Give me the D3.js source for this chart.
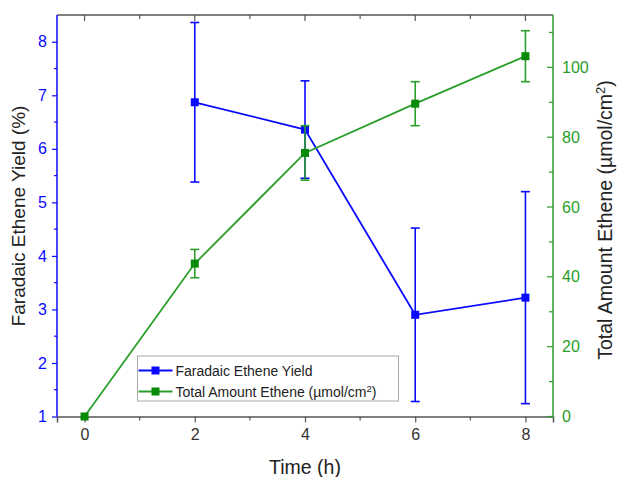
<!DOCTYPE html>
<html>
<head>
<meta charset="utf-8">
<script src="https://cdn.jsdelivr.net/npm/d3@7"></script>
<style>
  body { margin: 0; background: #fff; }
  svg { font-family: "Liberation Sans", Arial, sans-serif; }
</style>
</head>
<body>
<div id="chart"></div>
<script>
const width = 618
const height = 477
const margin = { top: 15, right: 65, bottom: 60.5, left: 57 }

// data
const timeYield = [2, 4, 6, 8]
const yieldVal = [6.87, 6.36, 2.90, 3.22]
const yieldErr = [1.49, 0.91, 1.62, 1.98]
const timeAmount = [0, 2, 4, 6, 8]
const amountVal = [0, 43.8, 75.5, 89.6, 103.2]
const amountErr = [0, 4.05, 7.8, 6.3, 7.3]
const xTicks = [0, 2, 4, 6, 8]
const yLeftTicks = [1, 2, 3, 4, 5, 6, 7, 8]
const yRightTicks = [0, 20, 40, 60, 80, 100]

const blue = "#0a0aff"
const green = "#2a9e2a"
const greenMark = "#078a07"
const frameCol = "#555"

const svg = d3.select("#chart").append("svg").attr("width", width).attr("height", height)
const iW = width - margin.left - margin.right
const iH = height - margin.top - margin.bottom
const g = svg.append("g").attr("transform", `translate(${margin.left},${margin.top})`)

const x = d3.scaleLinear().domain([-0.5, 8.5]).range([0, iW])
const yL = d3.scaleLinear().domain([1, 8.5]).range([iH, 0])
const yR = d3.scaleLinear().domain([0, 115]).range([iH, 0])

const minorX = [1, 3, 5, 7]
const minorL = d3.range(1.5, 8.5, 1)
const minorR = d3.range(10, 115, 20)

// top frame with inward ticks
g.append("line").attr("x1", 0).attr("x2", iW).attr("y1", 0).attr("y2", 0)
    .attr("stroke", frameCol).attr("stroke-width", 1.5)
g.selectAll(".ttop").data(xTicks.concat(minorX)).join("line")
    .attr("x1", d => x(d)).attr("x2", d => x(d))
    .attr("y1", 0).attr("y2", d => xTicks.includes(d) ? 6 : 4)
    .attr("stroke", frameCol).attr("stroke-width", 1.2)

// bottom axis
const xAxis = g.append("g").attr("transform", `translate(0,${iH})`)
    .call(d3.axisBottom(x).tickValues(xTicks).tickSize(6).tickPadding(6))
xAxis.select(".domain").attr("stroke", frameCol).attr("stroke-width", 1.5)
xAxis.selectAll(".tick line").attr("stroke", frameCol).attr("stroke-width", 1.2)
xAxis.selectAll("text").attr("fill", "#333").attr("font-size", 16)
g.append("g").attr("transform", `translate(0,${iH})`)
    .selectAll("line").data(minorX).join("line")
    .attr("x1", d => x(d)).attr("x2", d => x(d)).attr("y1", 0).attr("y2", 4)
    .attr("stroke", frameCol).attr("stroke-width", 1.2)

// left axis
const lAxis = g.append("g")
    .call(d3.axisLeft(yL).tickValues(yLeftTicks).tickFormat(d3.format("d")).tickSize(5).tickPadding(5))
lAxis.select(".domain").attr("stroke", blue).attr("stroke-width", 1.5).attr("d", `M0,${iH}V0`)
lAxis.selectAll(".tick line").attr("stroke", blue).attr("stroke-width", 1.2)
lAxis.selectAll("text").attr("fill", blue).attr("font-size", 16)
g.append("g").selectAll("line").data(minorL).join("line")
    .attr("x1", -3).attr("x2", 0).attr("y1", d => yL(d)).attr("y2", d => yL(d))
    .attr("stroke", blue).attr("stroke-width", 1.2)

// right axis, ticks point inward
const rAxis = g.append("g").attr("transform", `translate(${iW},0)`)
    .call(d3.axisRight(yR).tickValues(yRightTicks).tickSize(0).tickPadding(9))
rAxis.select(".domain").attr("stroke", green).attr("stroke-width", 1.5).attr("d", `M0,${iH}V0`)
rAxis.selectAll("text").attr("fill", green).attr("font-size", 16)
g.append("g").attr("transform", `translate(${iW},0)`)
    .selectAll("line").data(yRightTicks.concat(minorR)).join("line")
    .attr("x1", d => yRightTicks.includes(d) ? -6 : -4).attr("x2", 0)
    .attr("y1", d => yR(d)).attr("y2", d => yR(d))
    .attr("stroke", green).attr("stroke-width", 1.2)

// series drawing helper
function drawSeries(xs, ys, errs, yScale, lineCol, markCol) {
    const pts = xs.map((t, i) => ({ t: t, v: ys[i], e: errs[i] }))
    const s = g.append("g")
    s.append("path").datum(pts)
        .attr("fill", "none").attr("stroke", lineCol).attr("stroke-width", 1.8)
        .attr("d", d3.line().x(d => x(d.t)).y(d => yScale(d.v)))
    const eb = s.selectAll(".err").data(pts.filter(d => d.e > 0)).join("g")
        .attr("stroke", lineCol).attr("stroke-width", 1.6)
    eb.append("line").attr("x1", d => x(d.t)).attr("x2", d => x(d.t))
        .attr("y1", d => yScale(d.v + d.e)).attr("y2", d => yScale(d.v - d.e))
    eb.append("line").attr("x1", d => x(d.t) - 4.5).attr("x2", d => x(d.t) + 4.5)
        .attr("y1", d => yScale(d.v + d.e)).attr("y2", d => yScale(d.v + d.e))
    eb.append("line").attr("x1", d => x(d.t) - 4.5).attr("x2", d => x(d.t) + 4.5)
        .attr("y1", d => yScale(d.v - d.e)).attr("y2", d => yScale(d.v - d.e))
    s.selectAll("rect").data(pts).join("rect")
        .attr("x", d => x(d.t) - 4).attr("y", d => yScale(d.v) - 4)
        .attr("width", 8).attr("height", 8).attr("fill", markCol)
}
drawSeries(timeYield, yieldVal, yieldErr, yL, blue, blue)
drawSeries(timeAmount, amountVal, amountErr, yR, green, greenMark)

// axis titles
svg.append("text").attr("x", margin.left + x(4)).attr("y", 474)
    .attr("text-anchor", "middle").attr("font-size", 19.5).attr("fill", "#222").text("Time (h)")
svg.append("text").attr("transform", `translate(25,216) rotate(-90)`)
    .attr("text-anchor", "middle").attr("font-size", 19).attr("fill", "#222")
    .text("Faradaic Ethene Yield (%)")
const rt = svg.append("text").attr("transform", `translate(612,220) rotate(-90)`)
    .attr("text-anchor", "middle").attr("font-size", 19.5).attr("fill", "#222")
rt.append("tspan").text("Total Amount Ethene (µmol/cm")
rt.append("tspan").attr("baseline-shift", "super").attr("font-size", 13).text("2")
rt.append("tspan").text(")")

// legend
const lg = svg.append("g").attr("transform", "translate(137.5,356)")
lg.append("rect").attr("width", 261).attr("height", 45)
    .attr("fill", "#fff").attr("stroke", "#aaa").attr("stroke-width", 1)
const items = [
    { label: "Faradaic Ethene Yield", col: blue, mk: blue },
    { label: "Total Amount Ethene (µmol/cm", col: green, mk: greenMark, sup: true }
]
items.forEach((it, i) => {
    const yy = 14.5 + i * 21
    lg.append("line").attr("x1", 1).attr("x2", 35).attr("y1", yy).attr("y2", yy)
        .attr("stroke", it.col).attr("stroke-width", 1.8)
    lg.append("rect").attr("x", 14).attr("y", yy - 4).attr("width", 8).attr("height", 8).attr("fill", it.mk)
    const t = lg.append("text").attr("x", 38).attr("y", yy + 5).attr("font-size", 14).attr("fill", "#222")
    t.append("tspan").text(it.label)
    if (it.sup) {
        t.append("tspan").attr("baseline-shift", "super").attr("font-size", 9.5).text("2")
        t.append("tspan").text(")")
    }
})
</script>
</body>
</html>
